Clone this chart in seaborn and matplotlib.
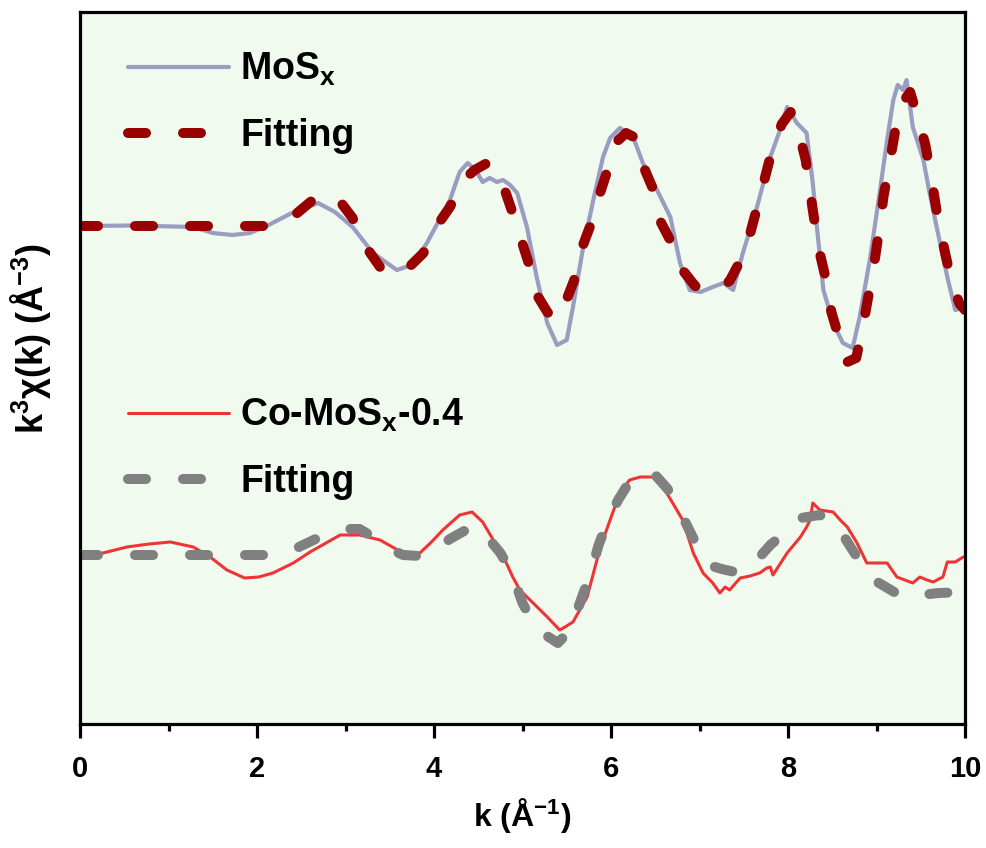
import numpy as np
import pandas as pd
import seaborn as sb
import matplotlib.pyplot as plt
from matplotlib.ticker import MultipleLocator

# ---------------- data ----------------
# MoSx experimental k3chi(k)
mos_k = [0.0, 0.6, 1.28, 1.5, 1.72, 1.92, 2.11, 2.37, 2.69, 2.88, 3.08, 3.31, 3.58, 3.75,
         3.92, 4.18, 4.29, 4.38, 4.47, 4.55, 4.63, 4.71, 4.78, 4.86, 4.94, 5.05, 5.16, 5.28,
         5.39, 5.5, 5.57, 5.68, 5.8, 5.91, 5.99, 6.1, 6.25, 6.36, 6.52, 6.67, 6.78, 6.89,
         7.01, 7.15, 7.27, 7.38, 7.49, 7.65, 7.8, 7.91, 7.99, 8.1, 8.21, 8.28, 8.33, 8.4,
         8.51, 8.62, 8.73, 8.81, 8.93, 9.04, 9.12, 9.19, 9.24, 9.3, 9.34, 9.41, 9.53, 9.6,
         9.68, 9.8, 9.89, 10.0]
mos_chi = [0.0, 0.05, -0.1, -0.7, -0.9, -0.7, 0.0, 1.2, 2.3, 1.4, -0.1, -2.7, -4.4, -3.9,
           -1.7, 2.6, 5.4, 6.3, 5.6, 4.4, 4.8, 4.4, 4.6, 4.1, 3.3, -0.1, -5.1, -9.7,
           -11.9, -11.4, -8.1, -2.4, 2.6, 6.9, 8.8, 9.8, 8.9, 6.3, 3.6, 0.9, -3.7, -6.4,
           -6.6, -6.1, -5.7, -6.4, -2.7, 1.9, 6.9, 9.6, 11.9, 10.3, 9.3, 4.3, -0.4, -6.4,
           -9.7, -11.7, -12.2, -9.1, -3.1, 3.6, 8.6, 12.6, 14.1, 13.6, 14.6, 9.9, 6.6, 3.3,
           -0.1, -5.1, -8.4, -8.1]

# MoSx fitting
mosfit_k = [0.0, 1.0, 2.1, 2.4, 2.63, 2.77, 2.9, 3.08, 3.2, 3.39, 3.56, 3.65, 3.88, 4.0,
            4.18, 4.33, 4.46, 4.6, 4.71, 4.8, 4.9, 4.99, 5.08, 5.17, 5.28, 5.37, 5.47, 5.58,
            5.68, 5.79, 5.88, 5.98, 6.06, 6.17, 6.28, 6.36, 6.47, 6.55, 6.68, 6.79, 6.95,
            7.06, 7.2, 7.34, 7.46, 7.55, 7.64, 7.73, 7.82, 7.93, 8.03, 8.12, 8.2, 8.28, 8.35,
            8.42, 8.49, 8.57, 8.67, 8.77, 8.84, 8.9, 8.97, 9.03, 9.08, 9.15, 9.22, 9.3, 9.38,
            9.46, 9.55, 9.62, 9.69, 9.78, 9.86, 9.94, 10.0]
mosfit_chi = [0.0, 0.0, 0.0, 0.9, 2.6, 3.1, 2.9, 0.8, -1.7, -4.1, -4.9, -4.7, -2.7, -0.4,
              1.9, 4.6, 5.6, 6.3, 5.1, 3.6, 1.0, -1.5, -4.0, -7.0, -8.6, -9.4, -8.0, -5.5,
              -2.0, 0.6, 3.4, 6.1, 8.4, 9.3, 8.8, 6.1, 3.8, 0.6, -1.6, -4.2, -6.0,
              -6.4, -6.5, -5.5, -3.5, -1.5, 1.5, 4.5, 7.6, 10.2, 11.4, 9.4, 6.6, 1.6, -2.4,
              -5.0, -8.6, -11.0, -13.6, -13.2, -10.4, -7.4, -4.0, -0.4, 3.0, 6.4, 10.0, 12.4, 13.4,
              11.0, 8.2, 4.8, 0.9, -2.9, -6.0, -7.8, -8.4]

# Co-MoSx-0.4 experimental
co_k = [0.0, 0.26, 0.53, 0.78, 1.02, 1.28, 1.47, 1.66, 1.86, 2.02, 2.18, 2.41, 2.6, 2.8,
        2.94, 3.16, 3.39, 3.53, 3.65, 3.84, 3.96, 4.1, 4.29, 4.43, 4.55, 4.67, 4.75, 4.89,
        4.97, 5.12, 5.28, 5.42, 5.48, 5.57, 5.73, 5.88, 5.99, 6.1, 6.21, 6.33, 6.47, 6.55,
        6.63, 6.81, 6.93, 7.04, 7.15, 7.23, 7.29, 7.34, 7.46, 7.57, 7.68, 7.76, 7.8, 7.83,
        7.99, 8.14, 8.21, 8.25, 8.28, 8.36, 8.51, 8.59, 8.67, 8.78, 8.89, 9.01, 9.12, 9.23,
        9.32, 9.41, 9.49, 9.57, 9.64, 9.75, 9.8, 9.89, 9.98]
co_chi = [0.0, 0.2, 0.8, 1.1, 1.3, 0.8, -0.2, -1.5, -2.3, -2.2, -1.8, -0.8, 0.3, 1.3,
          2.0, 2.0, 1.5, 0.8, 0.2, 0.2, 1.2, 2.5, 4.0, 4.3, 3.3, 1.5, 0.5, -2.2,
          -3.5, -4.8, -6.2, -7.5, -7.2, -6.7, -4.2, 0.8, 3.5, 6.2, 7.5, 7.8, 7.8, 7.2,
          6.2, 3.5, 0.2, -1.8, -2.8, -3.8, -3.2, -3.5, -2.3, -2.1, -1.8, -1.3, -1.2, -2.0,
          0.2, 1.8, 2.8, 3.5, 5.2, 4.5, 4.3, 3.5, 2.8, 1.2, -0.8, -0.8, -0.8, -2.2,
          -2.5, -2.8, -2.2, -2.5, -2.7, -2.2, -0.7, -0.7, -0.2]

# Co-MoSx-0.4 fitting
cofit_k = [0.0, 1.0, 2.15, 2.45, 2.71, 3.0, 3.16, 3.31, 3.5, 3.65, 3.84, 4.0, 4.18, 4.38,
           4.5, 4.63, 4.75, 4.88, 5.0, 5.12, 5.26, 5.4, 5.54, 5.66, 5.77, 5.86, 5.97, 6.08,
           6.2, 6.36, 6.5, 6.64, 6.8, 6.94, 7.1, 7.25, 7.4, 7.53, 7.68, 7.8, 7.96, 8.15,
           8.35, 8.51, 8.65, 8.8, 8.99, 9.2, 9.36, 9.5, 9.7, 10.0]
cofit_chi = [0.0, 0.0, 0.0, 0.7, 1.8, 2.6, 2.6, 1.8, 0.6, 0.0, -0.1, 0.4, 1.6, 2.6,
             2.8, 1.5, 0.2, -1.8, -4.8, -6.8, -8.0, -8.8, -7.5, -4.5, -1.8, 1.0, 3.5, 5.5,
             7.2, 8.2, 8.0, 6.6, 4.0, 1.5, -1.0, -1.4, -1.7, -1.6, -0.2, 1.0, 2.2, 3.7,
             4.0, 3.6, 1.6, -0.5, -2.6, -3.7, -4.3, -4.0, -3.8, -3.7]

# vertical offsets of the two stacked spectra
mos_offset = 49.8
co_offset = 16.9

# ---------------- style ----------------
sb.set_style("white")
plt.rcParams['font.family'] = ['Liberation Sans', 'DejaVu Sans']
plt.rcParams['font.weight'] = 'bold'
plt.rcParams['mathtext.default'] = 'regular'
plt.rcParams['lines.solid_capstyle'] = 'round'
plt.rcParams['text.color'] = 'black'
plt.rcParams['axes.labelcolor'] = 'black'
plt.rcParams['xtick.color'] = 'black'

fig = plt.figure(figsize=(9.86, 8.48), dpi=100)
ax = fig.add_axes([80 / 986, 1 - 724 / 848, 885 / 986, 712 / 848])
ax.set_facecolor('#f1faef')

mos = pd.DataFrame({'k': mos_k, 'chi': np.array(mos_chi) + mos_offset})
mosfit = pd.DataFrame({'k': mosfit_k, 'chi': np.array(mosfit_chi) + mos_offset})
co = pd.DataFrame({'k': co_k, 'chi': np.array(co_chi) + co_offset})
cofit = pd.DataFrame({'k': cofit_k, 'chi': np.array(cofit_chi) + co_offset})

dash = (0, (1.8, 3.7))

sb.lineplot(data=mos, x='k', y='chi', ax=ax, color='#9a9cc0', lw=3.0, sort=False)
l_mos = ax.lines[-1]
sb.lineplot(data=mosfit, x='k', y='chi', ax=ax, color='#990000', lw=7.2, sort=False,
            linestyle=dash, dash_capstyle='round')
l_mosfit = ax.lines[-1]
sb.lineplot(data=co, x='k', y='chi', ax=ax, color='#ee3535', lw=2.2, sort=False)
l_co = ax.lines[-1]
sb.lineplot(data=cofit, x='k', y='chi', ax=ax, color='#808080', lw=7.2, sort=False,
            linestyle=dash, dash_capstyle='round')
l_cofit = ax.lines[-1]

ax.set_xlim(0, 10)
ax.set_ylim(0, 71.2)

# legends
leg_kw = dict(frameon=False, fontsize=27, handlelength=2.7, handletextpad=0.3,
              labelspacing=0.79, borderpad=0, borderaxespad=0, loc='upper left')
leg1 = ax.legend([l_mos, l_mosfit], ['MoS$_{x}$', 'Fitting'],
                 bbox_to_anchor=(128 / 986, 1 - 51 / 848),
                 bbox_transform=fig.transFigure, **leg_kw)
ax.add_artist(leg1)
ax.legend([l_co, l_cofit], ['Co-MoS$_{x}$-0.4', 'Fitting'],
          bbox_to_anchor=(128 / 986, 1 - 397 / 848),
          bbox_transform=fig.transFigure, **leg_kw)

# axes and ticks
for s in ax.spines.values():
    s.set_linewidth(2.3)
    s.set_color('black')
ax.xaxis.set_major_locator(MultipleLocator(2))
ax.xaxis.set_minor_locator(MultipleLocator(1))
ax.tick_params(axis='x', which='major', direction='out', length=10, width=2.3,
               bottom=True, pad=12, labelsize=21)
ax.tick_params(axis='x', which='minor', direction='out', length=5, width=2.3, bottom=True)
ax.tick_params(axis='y', left=False, labelleft=False)
ax.set_yticks([])

ax.set_xlabel('k (Å$^{-1}$)', fontsize=23, fontweight='bold', labelpad=10)
ax.set_ylabel('k$^{3}$χ(k) (Å$^{-3}$)', fontsize=26, fontweight='bold')
ax.yaxis.set_label_coords(-0.031, 0.542)

plt.savefig('out.png', dpi=100)
